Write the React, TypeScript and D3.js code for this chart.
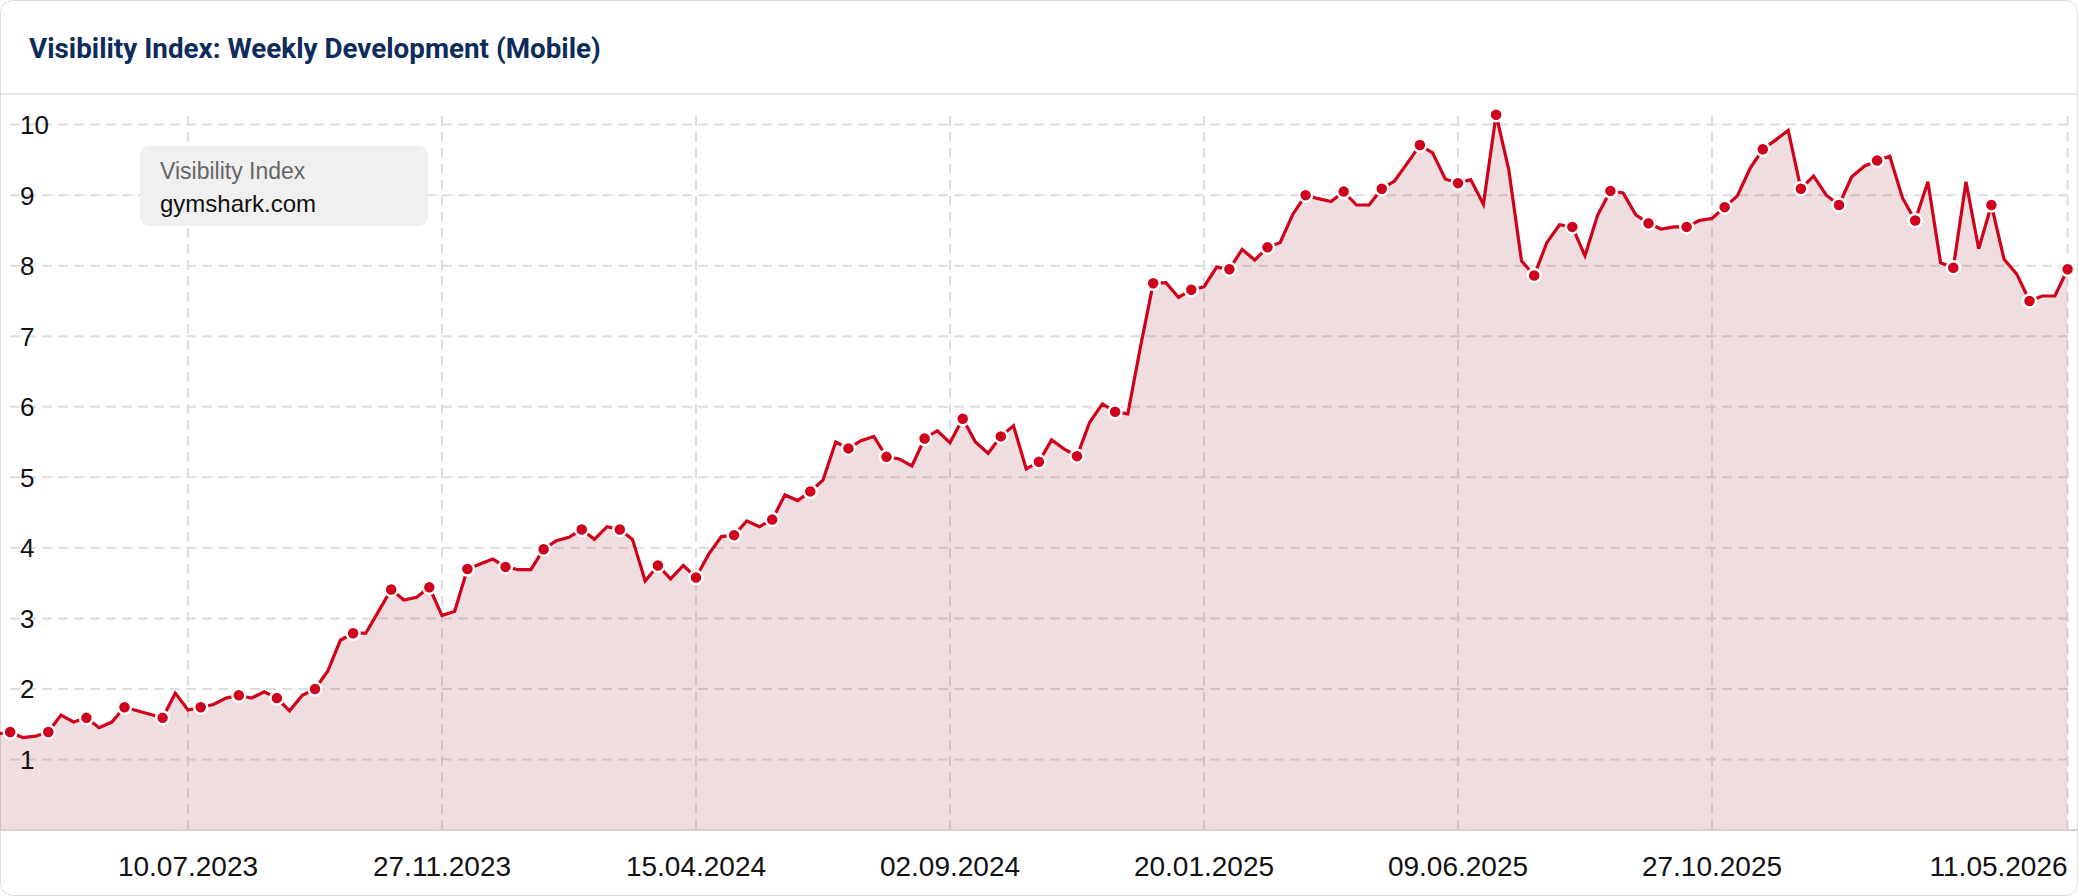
import React from "react";
import * as d3 from "d3";

// ---- data ----
const START_DATE = "2023-03-27"; // first weekly point (Mondays)
const visibility: number[] = [
  1.36,
  1.39, 1.31, 1.33, 1.39, 1.63, 1.53, 1.59, 1.45, 1.53, 1.74,
  1.69, 1.64, 1.59, 1.94, 1.70, 1.74, 1.78, 1.87, 1.91, 1.87,
  1.96, 1.87, 1.69, 1.91, 2.00, 2.25, 2.69, 2.79, 2.79, 3.10,
  3.41, 3.26, 3.30, 3.44, 3.04, 3.10, 3.70, 3.77, 3.84, 3.73,
  3.69, 3.69, 3.98, 4.10, 4.15, 4.26, 4.12, 4.30, 4.26, 4.12,
  3.53, 3.75, 3.56, 3.75, 3.58, 3.91, 4.16, 4.18, 4.38, 4.30,
  4.40, 4.75, 4.67, 4.80, 4.96, 5.50, 5.41, 5.52, 5.58, 5.29,
  5.26, 5.16, 5.55, 5.66, 5.49, 5.83, 5.50, 5.34, 5.58, 5.73,
  5.12, 5.22, 5.53, 5.40, 5.30, 5.78, 6.04, 5.93, 5.90, 6.85,
  7.75, 7.76, 7.55, 7.66, 7.70, 7.98, 7.95, 8.23, 8.08, 8.26,
  8.33, 8.73, 9.00, 8.95, 8.91, 9.05, 8.86, 8.86, 9.09, 9.20,
  9.45, 9.71, 9.60, 9.23, 9.17, 9.22, 8.87, 10.14, 9.36, 8.07,
  7.86, 8.33, 8.58, 8.55, 8.14, 8.72, 9.06, 9.03, 8.72, 8.60,
  8.52, 8.55, 8.55, 8.64, 8.67, 8.83, 8.99, 9.38, 9.65, 9.78,
  9.92, 9.09, 9.27, 9.00, 8.86, 9.26, 9.41, 9.49, 9.55, 8.96,
  8.64, 9.19, 8.04, 7.97, 9.19, 8.24, 8.86, 8.09, 7.88, 7.50,
  7.57, 7.57, 7.95,
];
const xTickLabels = [
  "10.07.2023", "27.11.2023", "15.04.2024", "02.09.2024",
  "20.01.2025", "09.06.2025", "27.10.2025", "11.05.2026",
];
const yTicks = [1, 2, 3, 4, 5, 6, 7, 8, 9, 10];
const TITLE = "Visibility Index: Weekly Development (Mobile)";
const LEGEND_TITLE = "Visibility Index";
const LEGEND_NAME = "gymshark.com";
const X_DOMAIN = ["2023-04-03", "2026-05-11"];

const W = 2078;
const H = 896;
const RED = "#d0021b";

export default function App() {
  const parseIso = d3.utcParse("%Y-%m-%d");
  const parseTick = d3.utcParse("%d.%m.%Y");
  const start = parseIso(START_DATE)!;
  const data = visibility.map((v, i) => ({
    date: d3.utcDay.offset(start, 7 * i),
    value: v,
    idx: i - 1,
  }));

  const plotLeft = 10.2;
  const plotRight = 2067.6;
  const x = d3
    .scaleUtc()
    .domain(X_DOMAIN.map((s) => parseIso(s)!))
    .range([plotLeft, plotRight]);
  const y = d3.scaleLinear().domain([0, 10]).range([830, 124.6]);

  const line = d3
    .line<{ date: Date; value: number }>()
    .x((d) => x(d.date))
    .y((d) => y(d.value));
  const area = d3
    .area<{ date: Date; value: number }>()
    .x((d) => x(d.date))
    .y0(y(0))
    .y1((d) => y(d.value));

  const markers = data.filter((d) => d.idx >= 0 && d.idx % 3 === 0);
  const fontSans = "'Liberation Sans', Arial, Helvetica, sans-serif";

  return (
    <svg
      width={W}
      height={H}
      style={{ position: "absolute", left: 0, top: 0, display: "block" }}
    >
      <defs>
        <clipPath id="plotClip">
          <rect x={0} y={96} width={W} height={830 - 96} />
        </clipPath>
      </defs>
      <rect x={0.5} y={0.5} width={W - 1} height={H - 1} rx={12} fill="#fff" stroke="#dcdcdc" />
      <text
        x={29}
        y={58}
        fontFamily="Roboto, 'Noto Sans', sans-serif"
        fontWeight={700}
        fontSize={27.8}
        fill="#0d2c5c"
      >
        {TITLE}
      </text>
      <line x1={1} x2={W - 1} y1={94} y2={94} stroke="#e8e8e8" strokeWidth={2} />

      {/* grid */}
      {yTicks.map((t) => (
        <line
          key={"h" + t}
          x1={10}
          x2={2068}
          y1={y(t)}
          y2={y(t)}
          stroke="#dedede"
          strokeWidth={2}
          strokeDasharray="10 6"
        />
      ))}
      {xTickLabels.map((s) => {
        const xx = x(parseTick(s)!);
        return (
          <line
            key={"v" + s}
            x1={xx}
            x2={xx}
            y1={116}
            y2={830}
            stroke="#dedede"
            strokeWidth={2}
            strokeDasharray="10 6"
          />
        );
      })}

      <g clipPath="url(#plotClip)">
        <path d={area(data) || ""} fill="#9b1c30" fillOpacity={0.15} />
        <path d={line(data) || ""} fill="none" stroke={RED} strokeWidth={3.2} strokeLinejoin="miter" />
        {markers.map((d) => (
          <circle
            key={d.idx}
            cx={x(d.date)}
            cy={y(d.value)}
            r={6.5}
            fill={RED}
            stroke="#fff"
            strokeWidth={2.5}
          />
        ))}
      </g>

      <line x1={1} x2={W - 1} y1={830} y2={830} stroke="#d9d0d2" strokeWidth={2} />

      {/* y labels */}
      {yTicks.map((t) => (
        <text
          key={"yl" + t}
          x={20}
          y={y(t)}
          dy="0.36em"
          fontFamily={fontSans}
          fontSize={26}
          fill="#111"
        >
          {t}
        </text>
      ))}

      {/* x labels */}
      {xTickLabels.map((s, i) => {
        const xx = x(parseTick(s)!);
        const last = i === xTickLabels.length - 1;
        return (
          <text
            key={"xl" + s}
            x={xx}
            y={876}
            textAnchor={last ? "end" : "middle"}
            fontFamily={fontSans}
            fontSize={28}
            fill="#111"
          >
            {s}
          </text>
        );
      })}

      {/* legend */}
      <rect x={140} y={146} width={288} height={80} rx={9} fill="#f0f0f0" />
      <text x={160} y={179} fontFamily={fontSans} fontSize={23} fill="#666">
        {LEGEND_TITLE}
      </text>
      <text x={160} y={212} fontFamily={fontSans} fontSize={24} fill="#111">
        {LEGEND_NAME}
      </text>
    </svg>
  );
}
